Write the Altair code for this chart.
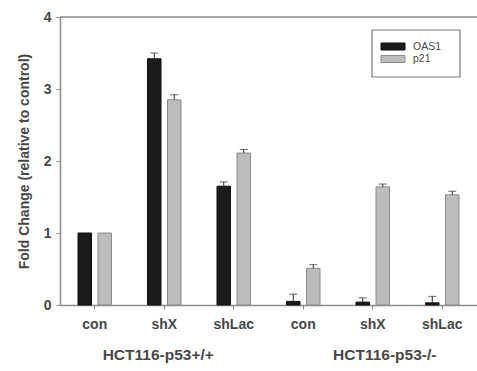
import altair as alt
import pandas as pd

# Cell lines and shRNA conditions
lines = ["HCT116-p53+/+", "HCT116-p53-/-"]
samples = ["con", "shX", "shLac"]
series = ["OAS1", "p21"]

# Fold change (relative to control) and upper error, per condition
oas1 = [1.00, 3.42, 1.65, 0.05, 0.04, 0.03]
oas1_err = [0.00, 0.08, 0.06, 0.10, 0.06, 0.09]
p21 = [1.00, 2.85, 2.11, 0.51, 1.64, 1.53]
p21_err = [0.00, 0.07, 0.05, 0.05, 0.04, 0.05]

fills = ["#1b1b1b", "#bcbcbc"]
edges = ["#0f0f0f", "#8a8a8a"]

FONT = "Liberation Sans"
TEXT = "#474747"
AXIS = "#8c8c8c"
W, H = 417, 288

slots = [f"{ln}|{s}" for ln in lines for s in samples]

rows = []
for i, slot in enumerate(slots):
    for name, vals, errs in (("OAS1", oas1, oas1_err), ("p21", p21, p21_err)):
        rows.append({"slot": slot, "series": name, "value": vals[i],
                     "err": errs[i], "hi": vals[i] + errs[i]})
df = pd.DataFrame(rows)

x_enc = alt.X(
    "slot:N", sort=slots,
    scale=alt.Scale(domain=slots, paddingInner=0, paddingOuter=0),
    axis=alt.Axis(title=None, labelExpr="split(datum.label, '|')[1]", labelAngle=0,
                  tickSize=4, tickColor=AXIS, domainColor=AXIS, domainWidth=1.5,
                  labelFont=FONT, labelFontSize=14, labelFontWeight="bold",
                  labelColor=TEXT, labelPadding=8),
)
off_enc = alt.XOffset("series:N", sort=series,
                      scale=alt.Scale(domain=series, paddingInner=0.325, paddingOuter=0.9))
y_enc = alt.Y(
    "value:Q",
    scale=alt.Scale(domain=[0, 4], nice=False),
    axis=alt.Axis(values=[0, 1, 2, 3, 4], format="d", grid=False,
                  title="Fold Change (relative to control)",
                  titleFont=FONT, titleFontSize=14, titleFontWeight="bold",
                  titleColor=TEXT, titlePadding=12,
                  tickSize=4, tickColor=AXIS, domainColor=AXIS, domainWidth=1.5,
                  labelFont=FONT, labelFontSize=14, labelFontWeight="bold",
                  labelColor=TEXT, labelPadding=5),
)

base = alt.Chart(df)

bars = base.mark_bar(strokeWidth=1).encode(
    x=x_enc, xOffset=off_enc, y=y_enc,
    fill=alt.Fill("series:N", scale=alt.Scale(domain=series, range=fills), legend=None),
    stroke=alt.Stroke("series:N", scale=alt.Scale(domain=series, range=edges), legend=None),
)

with_err = base.transform_filter("datum.err > 0")
err_line = with_err.mark_rule(color="#2a2a2a", strokeWidth=1).encode(
    x=alt.X("slot:N", sort=slots), xOffset=alt.XOffset("series:N", sort=series),
    y="value:Q", y2="hi:Q",
)
err_cap = with_err.mark_tick(color="#2a2a2a", thickness=1, size=8, orient="horizontal").encode(
    x=alt.X("slot:N", sort=slots), xOffset=alt.XOffset("series:N", sort=series),
    y="hi:Q",
)

# Top frame line at the axis maximum
top = alt.Chart(pd.DataFrame({"v": [4]})).mark_rule(color=AXIS, strokeWidth=1.5).encode(
    y=alt.Y("v:Q")
)

# Cell-line group labels under the sample labels
groups = pd.DataFrame({"slot": [f"{lines[0]}|shX", f"{lines[1]}|shX"],
                       "label": lines, "shift": [-6, 12]})
group_text = alt.layer(*[
    alt.Chart(groups.iloc[[k]]).mark_text(
        font=FONT, fontSize=15.5, fontWeight="bold", color=TEXT, baseline="middle",
        dx=float(groups["shift"][k])
    ).encode(x=alt.X("slot:N", sort=slots), text="label:N", y=alt.value(H + 50))
    for k in range(len(groups))
])

# Boxed legend in the upper right of the plot
leg = pd.DataFrame({"series": series})
leg_box = alt.Chart(pd.DataFrame({"a": [0]})).mark_rect(
    fill="white", stroke="#7a7a7a", strokeWidth=1.2
).encode(x=alt.value(312), x2=alt.value(400), y=alt.value(13), y2=alt.value(60))
leg_y = alt.Y("series:N", sort=series, axis=None,
              scale=alt.Scale(domain=series, range=[26, 45.5], paddingInner=0.44, paddingOuter=0))
leg_sw = alt.Chart(leg).mark_bar(strokeWidth=1).encode(
    y=leg_y, x=alt.value(321), x2=alt.value(345),
    fill=alt.Fill("series:N", scale=alt.Scale(domain=series, range=fills), legend=None),
    stroke=alt.Stroke("series:N", scale=alt.Scale(domain=series, range=edges), legend=None),
)
leg_tx = alt.Chart(leg).mark_text(
    font=FONT, fontSize=10.5, color=TEXT, align="left", baseline="middle"
).encode(y=leg_y, x=alt.value(353), text="series:N")
legend = alt.layer(leg_box, leg_sw, leg_tx)

main = alt.layer(bars, err_line, err_cap, top, group_text)

chart = alt.layer(main, legend).resolve_scale(y="independent").properties(
    width=W, height=H,
    autosize=alt.AutoSizeParams(type="none"),
    padding={"left": 60, "top": 17, "right": 0, "bottom": 66},
).configure_view(stroke=None).configure(background="white")

chart.save("out.html", embed_options={"renderer": "svg", "actions": False})
